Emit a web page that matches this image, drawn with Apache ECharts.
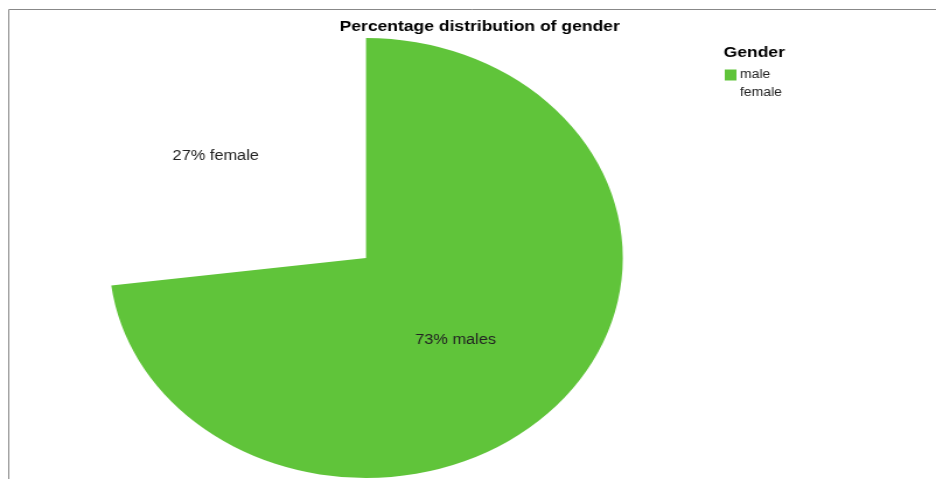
<!DOCTYPE html>
<html>
<head>
<meta charset="utf-8">
<script src="https://cdn.jsdelivr.net/npm/echarts@6/dist/echarts.min.js"></script>
<style>
  html, body { margin: 0; padding: 0; background: #fff; overflow: hidden; }
  #wrap { width: 936px; height: 479px; overflow: hidden; position: relative; }
  /* the chart is laid out narrower and widened, so the pie reads as an ellipse */
  #chart { width: 802px; height: 479px; transform: scaleX(1.1671); transform-origin: 0 0; }
</style>
</head>
<body>
<div id="wrap"><div id="chart"></div></div>
<script>
// Gender split, in percent
const categories = ['male', 'female'];
const values = [73, 27];
const sliceLabels = ['73% males', '27% female'];
const sliceColors = ['#60c43a', 'transparent'];

const chart = echarts.init(document.getElementById('chart'), null, { renderer: 'canvas' });

const font = '"Liberation Sans", Arial, sans-serif';

chart.setOption({
  backgroundColor: '#fff',
  animation: false,
  title: [
    {
      text: 'Percentage distribution of gender',
      left: 406, top: 14, textAlign: 'center',
      textStyle: { fontFamily: font, fontSize: 15, fontWeight: 'bold', color: '#000' }
    },
    {
      text: 'Gender',
      left: 615, top: 40,
      textStyle: { fontFamily: font, fontSize: 15, fontWeight: 'bold', color: '#000' }
    }
  ],
  legend: {
    orient: 'vertical',
    left: 616, top: 64,
    itemWidth: 10, itemHeight: 11, itemGap: 6,
    icon: 'rect',
    selectedMode: false,
    textStyle: { fontFamily: font, fontSize: 12, color: '#222', padding: [0, 0, 0, -2] },
    data: categories.map((c, i) => ({ name: c, itemStyle: { color: sliceColors[i] } }))
  },
  graphic: [
    { type: 'line', shape: { x1: 7.5, y1: 9.5, x2: 802, y2: 9.5 }, style: { stroke: '#888', lineWidth: 1 } },
    { type: 'line', shape: { x1: 7.5, y1: 9.5, x2: 7.5, y2: 479 }, style: { stroke: '#888', lineWidth: 1 } }
  ],
  series: [{
    type: 'pie',
    center: [313.6, 258],
    radius: [0, 220],
    startAngle: 90,
    clockwise: true,
    silent: true,
    label: {
      show: true, position: 'inside',
      fontFamily: font, fontSize: 14, color: '#222',
      formatter: p => sliceLabels[p.dataIndex]
    },
    labelLine: { show: false },
    data: categories.map((c, i) => ({
      name: c,
      value: values[i],
      itemStyle: { color: sliceColors[i] },
      label: i === 1 ? { offset: [-44, -27] } : { offset: [-8, 7] }
    }))
  }]
});
</script>
</body>
</html>
